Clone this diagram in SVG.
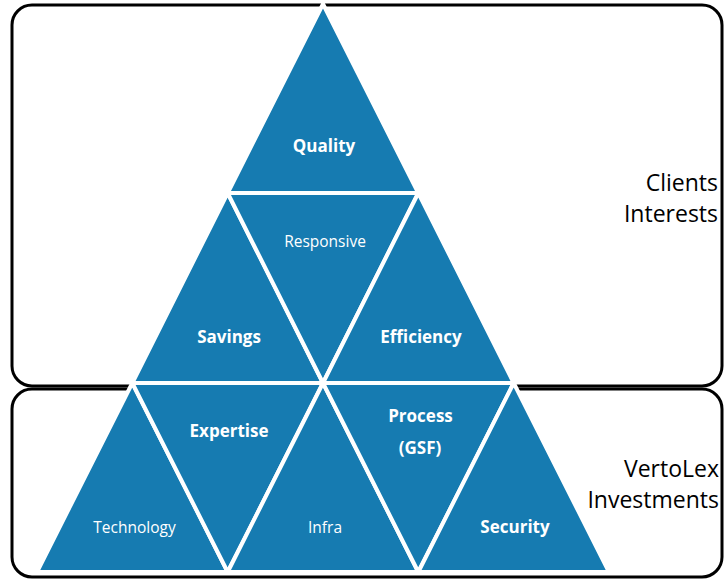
<svg xmlns="http://www.w3.org/2000/svg" width="724" height="579" viewBox="0 0 724 579">
<style>
.band{fill:#fff;stroke:#000;stroke-width:3}
.tri{fill:#167BB1;stroke:#fff;stroke-width:4;stroke-linejoin:round}
.lb{font-family:"Open Sans","Liberation Sans",sans-serif;fill:#fff;text-anchor:middle;font-weight:bold;font-size:17px}
.ls{font-family:"Open Sans","Liberation Sans",sans-serif;fill:#fff;text-anchor:middle;font-size:15.5px}
.side{font-family:"Open Sans","Liberation Sans",sans-serif;fill:#000;text-anchor:end;font-size:23px}
</style>
<rect id="clients-band" class="band" x="12" y="5" width="710" height="381" rx="20"/>
<rect id="investments-band" class="band" x="12" y="389" width="710" height="188" rx="20"/>
<g id="quality"><polygon class="tri" points="323,4 418.3,193 227.7,193"/><text class="lb" x="324" y="152">Quality</text></g>
<g id="savings"><polygon class="tri" points="227.7,193 323,383 132.3,383"/><text class="lb" x="229" y="343">Savings</text></g>
<g id="responsive"><polygon class="tri" points="227.7,193 418.3,193 323,383"/><text class="ls" x="325" y="247">Responsive</text></g>
<g id="efficiency"><polygon class="tri" points="418.3,193 513.7,383 323,383"/><text class="lb" x="421" y="343">Efficiency</text></g>
<g id="technology"><polygon class="tri" points="132.3,383 227.7,572 37,572"/><text class="ls" x="134.5" y="533">Technology</text></g>
<g id="expertise"><polygon class="tri" points="132.3,383 323,383 227.7,572"/><text class="lb" x="229" y="437">Expertise</text></g>
<g id="infra"><polygon class="tri" points="323,383 418.3,572 227.7,572"/><text class="ls" x="325" y="533">Infra</text></g>
<g id="process"><polygon class="tri" points="323,383 513.7,383 418.3,572"/><text class="lb" x="420.5" y="422">Process</text><text class="lb" x="420" y="454">(GSF)</text></g>
<g id="security"><polygon class="tri" points="513.7,383 609,572 418.3,572"/><text class="lb" x="515" y="533">Security</text></g>
<g id="labels">
<text class="side" x="718" y="191">Clients</text>
<text class="side" x="718" y="222">Interests</text>
<text class="side" x="719" y="477">VertoLex</text>
<text class="side" x="719" y="508">Investments</text>
</g>
</svg>
